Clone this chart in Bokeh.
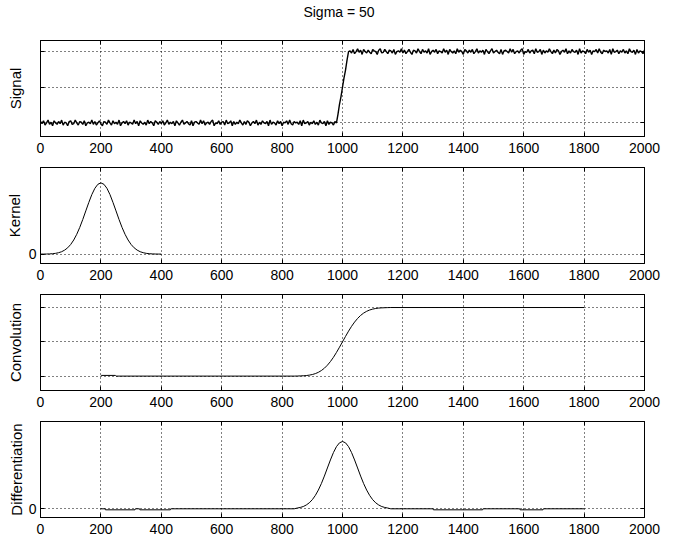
import numpy as np
from bokeh.plotting import figure
from bokeh.layouts import column
from bokeh.models import Range1d, LinearAxis, FixedTicker, Div
from bokeh.embed import file_html
from bokeh.resources import INLINE

FONT = "Liberation Sans"
title_text = "Sigma = 50"
x_ticks = [0, 200, 400, 600, 800, 1000, 1200, 1400, 1600, 1800, 2000]

# ---------------- data ----------------
# signal samples every 5 units (values in hundredths)
signal_low = [
    2, -1, 3, -3, 0, 4, -2, 1, -4, 3, 0, -2, 2, -1,
    4, -3, 1, 0, -4, 2, 3, -2, -1, 4, 0, -3, 2, 1,
    -2, 3, -4, 0, 1, -1, 4, -2, 2, -3, 0, 3, -1, -4,
    2, 1, -2, 4, 0, -3, 3, -1, 1, -2, 4, -4, 0, 2,
    -1, 3, -3, 1, 0, -2, 4, -1, 2, -4, 3, 0, -2, 1,
    -3, 4, -1, 2, 0, -4, 3, 1, -2, 2, -1, 3, -3, 0,
    4, -2, 1, -1, 2, -4, 3, 0, -3, 1, 4, -2, 0, 2,
    -1, -3, 3, -4, 1, 2, 0, -2, 4, -1, 3, -3, 0, 1,
    -2, 2, 4, -4, 0, -1, 3, -2, 1, 2, -3, 4, -1, 0,
    3, -4, 2, -2, 1, -1, 4, 0, -3, 2, -2, 3, 1, -4,
    0, 2, -1, 4, -3, 1, -2, 3, 0, -1, 2, -4, 4, -2,
    1, 0, -3, 3, -1, 2, -4, 1, 0, 3, -2, 4, -1, -3,
    2, 0, 1, -2, 3, -4, 4, -1, 0, 2, -3, 1, -1, 3,
    -2, 1, -3, 4, 0, -1, 2, -4, 3, -2, 1, 0, -3, 2,
]
signal_ramp = [0, 12, 26, 37, 50, 63, 74, 88, 100]
signal_high = [
    101, 98, 103, 97, 100, 104, 99, 102, 96, 103, 100, 98, 102, 99,
    97, 103, 101, 100, 96, 102, 104, 98, 99, 103, 100, 97, 102, 101,
    98, 103, 96, 100, 101, 99, 104, 98, 102, 97, 100, 103, 99, 96,
    102, 101, 98, 104, 100, 97, 103, 99, 101, 98, 104, 96, 100, 102,
    99, 103, 97, 101, 100, 98, 104, 99, 102, 96, 103, 100, 98, 101,
    97, 104, 99, 102, 100, 96, 103, 101, 98, 102, 99, 103, 97, 100,
    104, 98, 101, 99, 102, 96, 103, 100, 97, 101, 104, 98, 100, 102,
    99, 97, 103, 96, 101, 102, 100, 98, 104, 99, 103, 97, 100, 101,
    98, 102, 104, 96, 100, 99, 103, 98, 101, 102, 97, 104, 99, 100,
    103, 96, 102, 98, 101, 99, 104, 100, 97, 102, 98, 103, 101, 96,
    100, 102, 99, 104, 97, 101, 98, 103, 100, 99, 102, 96, 104, 98,
    101, 100, 97, 103, 99, 102, 96, 101, 100, 103, 98, 104, 99, 97,
    102, 100, 101, 98, 103, 96, 104, 99, 100, 102, 97, 101, 99, 103,
    98, 101, 97, 104, 100, 99, 102, 96, 103, 98, 101, 100, 97, 102,
]
signal_step = 5

# Gaussian kernel (x 0..400 step 10), values x 1e-3
kernel_x = [0, 10, 20, 30, 40, 50, 60, 70, 80, 90, 100, 110, 120, 130, 140, 150, 160, 170, 180, 190,
            200, 210, 220, 230, 240, 250, 260, 270, 280, 290, 300, 310, 320, 330, 340, 350, 360, 370,
            380, 390, 400]
kernel_y = [0.003, 0.006, 0.012, 0.025, 0.048, 0.089, 0.16, 0.27, 0.45, 0.71, 1.08, 1.58, 2.22, 2.99,
            3.88, 4.84, 5.79, 6.67, 7.37, 7.82, 7.98, 7.82, 7.37, 6.67, 5.79, 4.84, 3.88, 2.99, 2.22,
            1.58, 1.08, 0.71, 0.45, 0.27, 0.16, 0.089, 0.048, 0.025, 0.012, 0.006, 0.003]

conv_x = [200, 201, 248, 250, 840, 850, 860, 870, 880, 890, 900, 910, 920, 930, 940, 950, 960, 970,
          980, 990, 1000, 1010, 1020, 1030, 1040, 1050, 1060, 1070, 1080, 1090, 1100, 1110, 1120,
          1130, 1140, 1150, 1160, 1800]
conv_y = [0.01, 0.01, 0.01, 0.0, 0.0, 0.001, 0.003, 0.005, 0.008, 0.014, 0.023, 0.036, 0.055, 0.081,
          0.115, 0.159, 0.212, 0.274, 0.345, 0.421, 0.5, 0.579, 0.655, 0.726, 0.788, 0.841, 0.885,
          0.919, 0.945, 0.964, 0.977, 0.986, 0.992, 0.995, 0.997, 0.999, 1.0, 1.0]

diff_x = [200, 214, 215, 313, 314, 328, 329, 430, 431, 840, 850, 860, 870, 880, 890, 900, 910, 920,
          930, 940, 950, 960, 970, 980, 990, 1000, 1010, 1020, 1030, 1040, 1050, 1060, 1070, 1080,
          1090, 1100, 1110, 1120, 1130, 1140, 1150, 1160, 1300, 1301, 1464, 1465, 1587, 1588, 1664,
          1665, 1800]
diff_y = [0, 0, -0.12, -0.12, 0, 0, -0.12, -0.12, 0, 0, 0.089, 0.16, 0.27, 0.45, 0.71, 1.08, 1.58,
          2.22, 2.99, 3.88, 4.84, 5.79, 6.67, 7.37, 7.82, 7.98, 7.82, 7.37, 6.67, 5.79, 4.84, 3.88,
          2.99, 2.22, 1.58, 1.08, 0.71, 0.45, 0.27, 0.16, 0.089, 0, 0, -0.12, -0.12, 0, 0, -0.12,
          -0.12, 0, 0]

# ---------------- build ----------------
sig_vals = np.array(signal_low + signal_ramp + signal_high, dtype=float) / 100.0
sig_x = np.arange(len(sig_vals)) * signal_step
kern_y = np.array(kernel_y) * 1e-3
dif_y = np.array(diff_y) * 1e-3


def panel(height, top, bottom, yrange, ylabel, yticks, show_zero_label, label_standoff):
    p = figure(frame_width=604, frame_height=96, height=height,
               x_range=Range1d(0, 2000), y_range=Range1d(*yrange),
               output_backend="svg", toolbar_location=None,
               min_border_left=40, min_border_right=30,
               min_border_top=top, min_border_bottom=bottom,
               outline_line_color="black", outline_line_width=1,
               background_fill_color="white", border_fill_color="white")
    p.xaxis.ticker = FixedTicker(ticks=x_ticks)
    p.yaxis.ticker = FixedTicker(ticks=yticks)
    if not show_zero_label:
        p.yaxis.major_label_overrides = {t: "" for t in yticks}
    for ax in (p.xaxis[0], p.yaxis[0]):
        ax.major_tick_in = 4
        ax.major_tick_out = 0
        ax.minor_tick_in = 0
        ax.minor_tick_out = 0
        ax.axis_line_color = "black"
        ax.major_tick_line_color = "black"
        ax.major_label_text_font = FONT
        ax.major_label_text_font_size = "14px"
        ax.major_label_text_color = "black"
        ax.major_label_standoff = 6
    p.yaxis.major_label_standoff = 4
    p.yaxis.axis_label = ylabel
    p.yaxis.axis_label_text_font = FONT
    p.yaxis.axis_label_text_font_size = "15px"
    p.yaxis.axis_label_text_font_style = "normal"
    p.yaxis.axis_label_text_color = "black"
    p.yaxis.axis_label_standoff = label_standoff
    # top / right ticks (box style)
    top_ax = LinearAxis(ticker=FixedTicker(ticks=x_ticks), major_label_text_font_size="0px",
                        major_tick_in=4, major_tick_out=0, minor_tick_in=0, minor_tick_out=0,
                        major_label_standoff=0, axis_line_color="black")
    right_ax = LinearAxis(ticker=FixedTicker(ticks=yticks), major_label_text_font_size="0px",
                          major_tick_in=4, major_tick_out=0, minor_tick_in=0, minor_tick_out=0,
                          major_label_standoff=0, axis_line_color="black")
    top_ax.major_label_overrides = {t: "" for t in x_ticks}
    right_ax.major_label_overrides = {t: "" for t in yticks}
    p.add_layout(top_ax, "above")
    p.add_layout(right_ax, "right")
    for g in (p.xgrid[0], p.ygrid[0]):
        g.grid_line_color = "black"
        g.grid_line_dash = "1 3"
        g.grid_line_width = 1
        g.grid_line_alpha = 1
    p.xgrid.ticker = FixedTicker(ticks=x_ticks)
    p.ygrid.ticker = FixedTicker(ticks=yticks)
    return p


title_div = Div(text=title_text, width=674, height=24, margin=(0, 0, 0, 0),
                styles={"text-align": "center", "font-family": FONT, "font-size": "14px",
                        "line-height": "24px", "color": "black", "width": "674px",
                        "padding-left": "4px", "box-sizing": "border-box",
                        "background-color": "white"})

p1 = panel(143, 16, 31, (-0.19, 1.155), "Signal", [0, 0.5, 1], False, 17)
p1.line(sig_x, sig_vals, line_color="black", line_width=1.4)

p2 = panel(127, 0, 31, (-0.00105, 0.0097), "Kernel", [0], True, 3)
p2.line(kernel_x, kern_y, line_color="black", line_width=1)

p3 = panel(127, 0, 31, (-0.21, 1.19), "Convolution", [0, 0.5, 1], False, 17)
p3.line(conv_x, conv_y, line_color="black", line_width=1)

p4 = panel(134, 0, 38, (-0.00103, 0.01035), "Differentiation", [0], True, 1)
p4.line(diff_x, dif_y, line_color="black", line_width=1)

layout = column(title_div, p1, p2, p3, p4, spacing=0)
open("out.html", "w").write(file_html(layout, INLINE))
